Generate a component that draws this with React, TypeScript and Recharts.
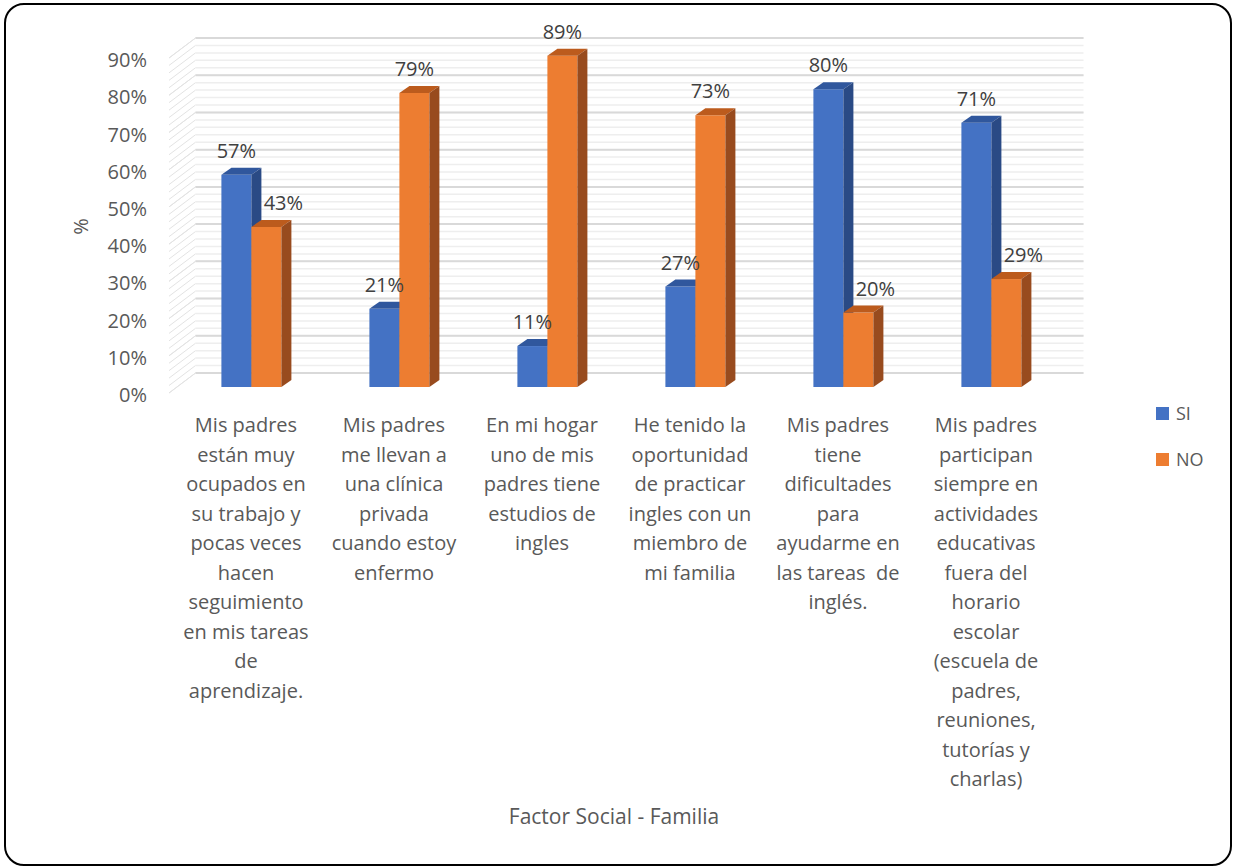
import React from "react";
import { BarChart, Bar, XAxis, YAxis, CartesianGrid, LabelList } from "recharts";

const categories = [
  "Mis padres\nestán muy\nocupados en\nsu trabajo y\npocas veces\nhacen\nseguimiento\nen mis tareas\nde\naprendizaje.",
  "Mis padres\nme llevan a\nuna clínica\nprivada\ncuando estoy\nenfermo",
  "En mi hogar\nuno de mis\npadres tiene\nestudios de\ningles",
  "He tenido la\noportunidad\nde practicar\ningles con un\nmiembro de\nmi familia",
  "Mis padres\ntiene\ndificultades\npara\nayudarme en\nlas tareas  de\ninglés.",
  "Mis padres\nparticipan\nsiempre en\nactividades\neducativas\nfuera del\nhorario\nescolar\n(escuela de\npadres,\nreuniones,\ntutorías y\ncharlas)",
];
const siValues = [57, 21, 11, 27, 80, 71];
const noValues = [43, 79, 89, 73, 20, 29];
const seriesNames = ["SI", "NO"];
const majorTicks = [0, 10, 20, 30, 40, 50, 60, 70, 80, 90];
const minorTicks = [
  0, 2, 4, 6, 8, 10, 12, 14, 16, 18, 20, 22, 24, 26, 28, 30, 32, 34, 36, 38, 40, 42, 44, 46,
  48, 50, 52, 54, 56, 58, 60, 62, 64, 66, 68, 70, 72, 74, 76, 78, 80, 82, 84, 86, 88, 90,
];
const xTitle = "Factor Social - Familia";
const yTitle = "%";

const data = categories.map((name, i) => ({ name, si: siValues[i], no: noValues[i] }));

const FONT = "'Open Sans', sans-serif";
const TEXT = "#595959";
const LABEL = "#404040";
const BLUE = { front: "#4472C4", top: "#30579D", side: "#2A4A85" };
const ORANGE = { front: "#ED7D31", top: "#BC5B1D", side: "#984B1E" };

// 3d offsets (bar depth, back wall, front of floor)
const DX = 10;
const DY = -7;
const WALL_X = 18.5;
const WALL_Y = -14;
const FLOOR_X = -8;
const FLOOR_Y = 6;

const gridLine = (color: string, width: number) => (props: any) => {
  const { x1, y1, x2, key } = props;
  return (
    <g key={key}>
      <line
        x1={x1 + FLOOR_X}
        y1={y1 + FLOOR_Y}
        x2={x1 + WALL_X}
        y2={y1 + WALL_Y}
        stroke="#E3E3E3"
        strokeWidth={1}
      />
      <line
        x1={x1 + WALL_X}
        y1={y1 + WALL_Y}
        x2={x2 + WALL_X}
        y2={y1 + WALL_Y}
        stroke={color}
        strokeWidth={width}
      />
    </g>
  );
};

const Bar3D = (props: any) => {
  const { x, y, width, height, colors } = props;
  if (!height) return null;
  const b = y + height;
  return (
    <g>
      <rect x={x} y={y} width={width} height={height} fill={colors.front} />
      <polygon
        points={`${x},${y} ${x + width},${y} ${x + width + DX},${y + DY} ${x + DX},${y + DY}`}
        fill={colors.top}
      />
      <polygon
        points={`${x + width},${y} ${x + width + DX},${y + DY} ${x + width + DX},${b + DY} ${x + width},${b}`}
        fill={colors.side}
      />
    </g>
  );
};

const valueLabel = (key: "si" | "no") => (props: any) => {
  const { x, y, width, index, value } = props;
  // move the NO label to the right when it sits beside a taller SI bar
  const shift = key === "no" && noValues[index] < siValues[index] ? 17 : 0;
  return (
    <text
      x={x + width / 2 + shift}
      y={y - 24}
      dy="0.355em"
      textAnchor="middle"
      fill={LABEL}
      fontSize={20}
      fontFamily={FONT}
    >
      {value}%
    </text>
  );
};

const YTick = (props: any) => {
  const { x, y, payload } = props;
  return (
    <text x={x} y={y + 8} dy="0.355em" textAnchor="end" fill={TEXT} fontSize={20} fontFamily={FONT}>
      {payload.value}%
    </text>
  );
};

const XTick = (props: any) => {
  const { x, y, payload } = props;
  const lines = String(payload.value).split("\n");
  return (
    <text textAnchor="middle" fill={TEXT} fontSize={20} fontFamily={FONT} xmlSpace="preserve">
      {lines.map((l, i) => (
        <tspan key={i} x={x - 5} y={y + 38 + i * 29.5} dy="0.355em">
          {l}
        </tspan>
      ))}
    </text>
  );
};

export default function App() {
  return (
    <div style={{ position: "absolute", left: 0, top: 0, width: 1234, height: 868, background: "#fff" }}>
      <BarChart
        width={1234}
        height={868}
        data={data}
        margin={{ top: 52, right: 169, bottom: 11, left: 0 }}
        barCategoryGap="30%"
        barGap={0}
      >
        <CartesianGrid vertical={false} horizontalValues={minorTicks} horizontal={gridLine("#EEEEEE", 1.5)} />
        <CartesianGrid vertical={false} horizontalValues={majorTicks} horizontal={gridLine("#D9D9D9", 2)} />
        <XAxis
          dataKey="name"
          height={470}
          interval={0}
          tickSize={0}
          tickMargin={0}
          axisLine={false}
          tickLine={false}
          tick={<XTick />}
          label={{
            value: xTitle,
            position: "insideBottom",
            offset: 33,
            dx: -7,
            fill: TEXT,
            fontSize: 21,
            fontFamily: FONT,
          }}
        />
        <YAxis
          width={177}
          domain={[0, 90]}
          ticks={majorTicks}
          interval={0}
          tickSize={0}
          tickMargin={30}
          axisLine={false}
          tickLine={false}
          tick={<YTick />}
          label={{
            value: yTitle,
            content: (p: any) => {
              const vb = p.viewBox;
              const cx = vb.x + 81;
              const cy = vb.y + vb.height / 2 + 7;
              return (
                <text
                  x={cx}
                  y={cy}
                  dy="0.355em"
                  textAnchor="middle"
                  transform={`rotate(-90, ${cx}, ${cy})`}
                  fill={TEXT}
                  fontSize={20}
                  fontFamily={FONT}
                >
                  {yTitle}
                </text>
              );
            },
          }}
        />
        <Bar
          dataKey="si"
          name={seriesNames[0]}
          fill={BLUE.front}
          isAnimationActive={false}
          shape={(p: any) => <Bar3D {...p} colors={BLUE} />}
        >
          <LabelList dataKey="si" content={valueLabel("si")} />
        </Bar>
        <Bar
          dataKey="no"
          name={seriesNames[1]}
          fill={ORANGE.front}
          isAnimationActive={false}
          shape={(p: any) => <Bar3D {...p} colors={ORANGE} />}
        >
          <LabelList dataKey="no" content={valueLabel("no")} />
        </Bar>
      </BarChart>
      <div style={{ position: "absolute", left: 1156, top: 400, fontFamily: FONT, fontSize: 18, color: TEXT }}>
        {seriesNames.map((n, i) => (
          <div key={n} style={{ display: "flex", alignItems: "center", height: 26, marginBottom: 20 }}>
            <span
              style={{
                display: "inline-block",
                width: 13,
                height: 13,
                background: i === 0 ? BLUE.front : ORANGE.front,
                marginRight: 7,
              }}
            />
            {n}
          </div>
        ))}
      </div>
      <div
        style={{
          position: "absolute",
          left: 4,
          top: 3,
          width: 1228,
          height: 863,
          boxSizing: "border-box",
          border: "2px solid #000",
          borderRadius: 20,
          pointerEvents: "none",
        }}
      />
    </div>
  );
}
